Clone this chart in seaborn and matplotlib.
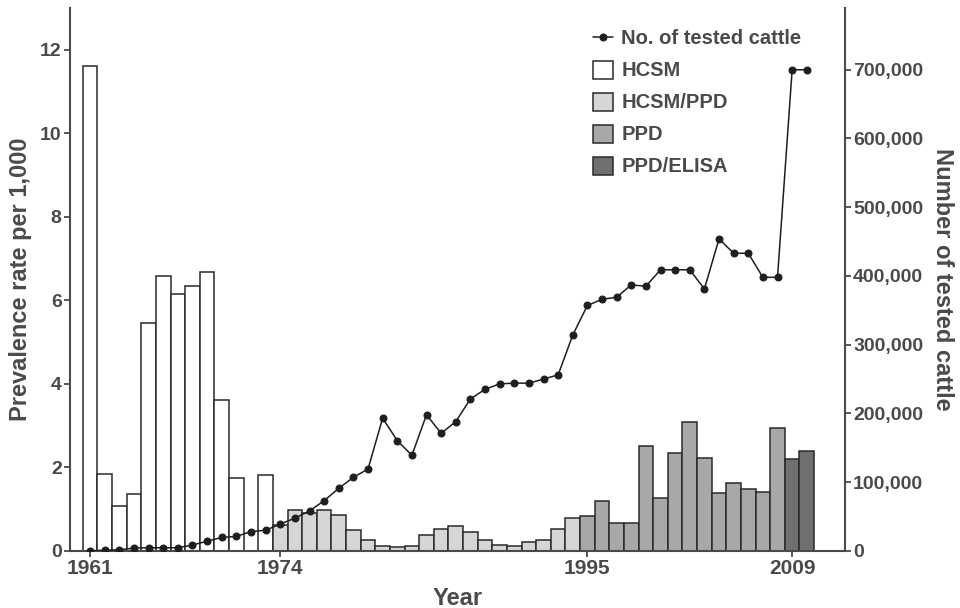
import pandas as pd
import seaborn as sns
import matplotlib.pyplot as plt
from matplotlib.ticker import FuncFormatter

# prevalence rate per 1,000 by test method (no data for 1972)
hcsm_years = [1961, 1962, 1963, 1964, 1965, 1966, 1967, 1968, 1969, 1970, 1971, 1973]
hcsm_rates = [11.6, 1.85, 1.08, 1.36, 5.46, 6.58, 6.15, 6.33, 6.68, 3.6, 1.74, 1.81]

hcsm_ppd_years = list(range(1974, 1995))
hcsm_ppd_rates = [0.61, 0.97, 0.9, 0.98, 0.85, 0.5, 0.26, 0.12, 0.09, 0.12, 0.38,
                  0.52, 0.6, 0.46, 0.26, 0.14, 0.12, 0.21, 0.26, 0.52, 0.78]

ppd_years = list(range(1995, 2009))
ppd_rates = [0.84, 1.2, 0.66, 0.66, 2.51, 1.26, 2.34, 3.08, 2.22, 1.38, 1.62, 1.49, 1.41, 2.95]

elisa_years = [2009, 2010]
elisa_rates = [2.19, 2.40]

# number of tested cattle per year
cattle_years = list(range(1961, 2011))
cattle_counts = [0, 1000, 1500, 4000, 4500, 4500, 4500, 8500, 14000, 19500,
                 21000, 28000, 30000, 39000, 47500, 58000, 73000, 91000, 107000, 119000,
                 193000, 160500, 139000, 198000, 171000, 188000, 221000, 235000, 243000, 244000,
                 244000, 250000, 256000, 314000, 357000, 366000, 369000, 387000, 385000, 409000,
                 409000, 409000, 381000, 454000, 433000, 433000, 398000, 398000, 700000, 700000]

methods = ['HCSM', 'HCSM/PPD', 'PPD', 'PPD/ELISA']
method_colors = ['#ffffff', '#d6d6d6', '#a8a8a8', '#707070']
x_ticks = [1961, 1974, 1995, 2009]

bars = pd.DataFrame({
    'year': hcsm_years + hcsm_ppd_years + ppd_years + elisa_years,
    'rate': hcsm_rates + hcsm_ppd_rates + ppd_rates + elisa_rates,
    'method': (['HCSM'] * len(hcsm_years) + ['HCSM/PPD'] * len(hcsm_ppd_years)
               + ['PPD'] * len(ppd_years) + ['PPD/ELISA'] * len(elisa_years)),
})
cattle = pd.DataFrame({'year': cattle_years, 'count': cattle_counts})

sns.set_style('ticks')
plt.rcParams['font.family'] = ['Liberation Sans', 'DejaVu Sans']
plt.rcParams['font.weight'] = 'bold'
grey = '#4a4a4a'

fig = plt.figure(figsize=(9.6, 6.08), dpi=100)
ax = fig.add_axes([0.073, 0.094, 0.807, 0.893])

sns.barplot(data=bars, x='year', y='rate', hue='method', hue_order=methods,
            palette=dict(zip(methods, method_colors)), native_scale=True,
            dodge=False, width=1.0, saturation=1, edgecolor='#2a2a2a',
            linewidth=1.1, ax=ax)
bar_handles, bar_labels = ax.get_legend_handles_labels()
ax.get_legend().remove()

ax2 = ax.twinx()
sns.lineplot(data=cattle, x='year', y='count', marker='o', markersize=5,
             color='#1e1e1e', linewidth=1.1, markeredgecolor='#1e1e1e',
             label='No. of tested cattle', ax=ax2)
line_handles, line_labels = ax2.get_legend_handles_labels()
ax2.get_legend().remove()

ax.set_xlim(1959.63, 2012.6)
ax.set_ylim(0, 13.0)
ax2.set_ylim(0, 790000)
ax.set_xticks(x_ticks)
ax.set_xticklabels([str(t) for t in x_ticks])
ax.set_yticks(range(0, 13, 2))
ax2.set_yticks(range(0, 700001, 100000))
ax2.yaxis.set_major_formatter(FuncFormatter(lambda v, p: f'{int(v):,}'))

ax.set_xlabel('Year', fontsize=17, color=grey, fontweight='bold', labelpad=6)
ax.set_ylabel('Prevalence rate per 1,000', fontsize=17, color=grey, fontweight='bold',
              labelpad=6)
ax2.set_ylabel('Number of tested cattle', fontsize=17, color=grey, fontweight='bold',
               rotation=270, labelpad=22)

for a in (ax, ax2):
    a.spines['top'].set_visible(False)
    for s in a.spines.values():
        s.set_color(grey)
        s.set_linewidth(1.5)
    a.tick_params(colors=grey, labelsize=14, width=1.3, length=4, pad=2)
ax.tick_params(axis='x', labelsize=15)
ax.spines['right'].set_visible(False)
ax2.spines['left'].set_visible(False)
ax2.spines['bottom'].set_visible(False)

ax2.legend(line_handles + bar_handles, line_labels + bar_labels,
           loc='upper left', bbox_to_anchor=(0.618, 0.953), bbox_transform=fig.transFigure,
           frameon=False, fontsize=14.5, handlelength=1.0, handleheight=1.0,
           labelspacing=0.6, handletextpad=0.4, borderpad=0, borderaxespad=0,
           labelcolor=grey)

fig.savefig('out.png', dpi=100)
